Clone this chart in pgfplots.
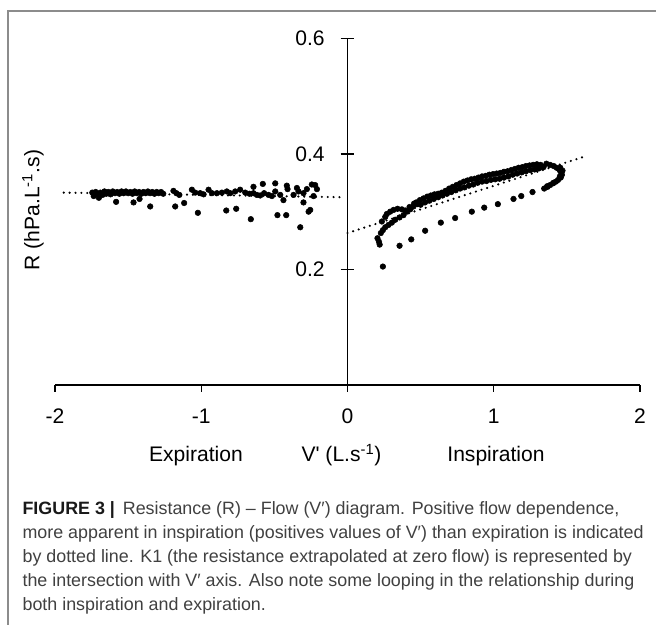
\documentclass[border=0pt]{standalone}
\usepackage{fontspec}
\setmainfont{Liberation Sans}
\usepackage{pgfplots}
\pgfplotsset{compat=1.18}

\pgfplotstableread{
x y
-1.745 0.333
-1.735 0.327
-1.722 0.334
-1.710 0.330
-1.700 0.324
-1.690 0.333
-1.675 0.329
-1.662 0.335
-1.650 0.331
-1.635 0.334
-1.620 0.330
-1.605 0.335
-1.590 0.332
-1.582 0.317
-1.575 0.334
-1.560 0.331
-1.545 0.335
-1.530 0.332
-1.515 0.335
-1.500 0.332
-1.485 0.334
-1.470 0.331
-1.463 0.316
-1.455 0.335
-1.440 0.332
-1.422 0.322
-1.425 0.334
-1.410 0.331
-1.395 0.334
-1.380 0.332
-1.365 0.335
-1.349 0.309
-1.350 0.332
-1.335 0.334
-1.320 0.331
-1.305 0.334
-1.290 0.332
-1.275 0.334
-1.260 0.331
-1.190 0.336
-1.178 0.309
-1.170 0.332
-1.150 0.329
-1.117 0.315
-1.064 0.338
-1.041 0.333
-1.023 0.298
-1.007 0.332
-0.984 0.330
-0.950 0.338
-0.927 0.332
-0.893 0.332
-0.859 0.333
-0.829 0.302
-0.825 0.335
-0.802 0.332
-0.768 0.335
-0.761 0.305
-0.734 0.338
-0.699 0.333
-0.670 0.331
-0.661 0.287
-0.643 0.343
-0.643 0.332
-0.620 0.329
-0.597 0.328
-0.579 0.348
-0.570 0.332
-0.540 0.329
-0.517 0.327
-0.494 0.349
-0.494 0.335
-0.479 0.294
-0.460 0.329
-0.438 0.320
-0.419 0.294
-0.415 0.345
-0.410 0.339
-0.369 0.329
-0.346 0.341
-0.335 0.335
-0.323 0.273
-0.301 0.332
-0.301 0.316
-0.278 0.339
-0.266 0.300
-0.255 0.303
-0.244 0.347
-0.232 0.327
-0.221 0.346
-0.209 0.339
}\expir

\pgfplotstableread{
x y
0.205 0.254
0.215 0.248
0.220 0.243
0.228 0.263
0.235 0.283
0.242 0.268
0.258 0.273
0.258 0.291
0.269 0.296
0.280 0.277
0.292 0.300
0.303 0.281
0.315 0.303
0.326 0.286
0.342 0.305
0.356 0.290
0.372 0.304
0.383 0.294
0.395 0.302
0.406 0.300
0.424 0.308
0.429 0.304
0.451 0.309
0.455 0.314
0.478 0.313
0.470 0.316
0.495 0.320
0.520 0.323
0.545 0.326
0.570 0.328
0.595 0.330
0.620 0.331
0.645 0.333
0.670 0.336
0.695 0.340
0.720 0.343
0.745 0.346
0.770 0.349
0.795 0.352
0.820 0.354
0.845 0.356
0.870 0.357
0.895 0.359
0.920 0.361
0.945 0.362
0.970 0.364
0.995 0.365
1.020 0.366
1.045 0.367
1.070 0.369
1.095 0.370
1.120 0.372
1.145 0.374
1.170 0.376
1.195 0.377
1.220 0.379
1.245 0.380
1.270 0.381
1.295 0.382
1.320 0.381
0.500 0.312
0.530 0.316
0.560 0.319
0.590 0.322
0.620 0.325
0.650 0.328
0.680 0.331
0.710 0.334
0.740 0.337
0.770 0.340
0.800 0.342
0.830 0.345
0.860 0.347
0.890 0.350
0.920 0.352
0.950 0.353
0.980 0.355
1.010 0.356
1.040 0.357
1.070 0.359
1.100 0.361
1.130 0.364
1.160 0.366
1.190 0.368
1.220 0.370
1.250 0.372
1.280 0.373
1.310 0.375
1.340 0.377
1.360 0.383
1.385 0.381
1.410 0.379
1.430 0.376
1.450 0.372
1.460 0.368
1.466 0.364
1.458 0.359
1.440 0.355
1.425 0.352
1.405 0.349
1.385 0.346
1.365 0.344
1.470 0.371
1.455 0.376
1.452 0.361
1.409 0.350
1.368 0.343
1.345 0.340
1.265 0.334
1.188 0.327
1.135 0.322
1.028 0.313
0.935 0.307
0.850 0.300
0.736 0.289
0.638 0.281
0.531 0.267
0.436 0.252
0.356 0.241
0.242 0.205
}\inspir

\begin{document}
\begin{tikzpicture}
% page = 656 x 624 px, 1 px = 0.75pt
\useasboundingbox (0,0) rectangle (492pt,468pt);
\draw[black!45, line width=0.8pt] (6pt,-5pt) -- (6pt,459.75pt) -- (500pt,459.75pt);

\begin{axis}[
    scale only axis,
    width=438.75pt,
    height=260pt,
    at={(41.25pt,179.25pt)},
    anchor=south west,
    xmin=-2, xmax=2,
    ymin=0, ymax=0.6,
    axis lines=middle,
    axis line style={-, line width=1.1pt},
    tick style={black, line width=1.1pt},
    ytick style={draw=none},
    tick align=outside,
    major tick length=5.1pt,
    xtick={-2,-1,0,1,2},
    xticklabels={-2,-1,0,1,2},
    ytick={0.2,0.4,0.6},
    yticklabels={0.2,0.4,0.6},
    hide obscured x ticks=false,
    hide obscured y ticks=false,
    tick label style={font=\fontsize{15.8}{18}\selectfont},
    xticklabel style={yshift=-9pt},
    yticklabel style={xshift=-8.5pt},
    clip=false
]

% y ticks cross the axis
\draw[line width=1.1pt] (axis cs:0,0.2) ++(-5.1pt,0pt) -- ++(10.2pt,0pt);
\draw[line width=1.1pt] (axis cs:0,0.4) ++(-5.1pt,0pt) -- ++(10.2pt,0pt);
\draw[line width=1.1pt] (axis cs:0,0.6) ++(-5.1pt,0pt) -- ++(10.2pt,0pt);

% --- dotted trend lines ---
\addplot[black, line width=1.8pt, line cap=round, dash pattern=on 0pt off 4.4pt]
    coordinates {(-1.94,0.333) (-0.04,0.325)};
\addplot[black, line width=1.8pt, line cap=round, dash pattern=on 0pt off 4.4pt]
    coordinates {(0.0,0.263) (1.64,0.397)};

% --- measured points ---
\addplot[only marks, mark=*, mark size=2.1pt, black] table {\expir};
\addplot[only marks, mark=*, mark size=2.1pt, black] table {\inspir};

\end{axis}

% --- axis titles (positions in px) ---
\begin{scope}[x=0.75pt, y=0.75pt, font=\fontsize{15.8}{18}\selectfont]
\node[rotate=90] at (33,414) {R (hPa.L\textsuperscript{-1}.s)};
\node[anchor=base] at (196,162.3) {Expiration};
\node[anchor=base] at (341.5,162.3) {V\textquotesingle\ (L.s\textsuperscript{-1})};
\node[anchor=base] at (496,162.3) {Inspiration};
\end{scope}

% --- caption ---
\begin{scope}[x=0.75pt, y=0.75pt, every node/.style={anchor=base west, inner sep=0pt,
    text=black!75, font=\fontsize{13.4}{16}\selectfont}]
\node at (22.3,109) {{\bfseries\color{black!90}FIGURE 3 \textbar} \,Resistance (R) – Flow (V′) diagram. Positive flow dependence,};
\node at (22.3,85) {more apparent in inspiration (positives values of V′) than expiration is indicated};
\node at (22.3,61) {by dotted line. K1 (the resistance extrapolated at zero flow) is represented by};
\node at (22.3,37) {the intersection with V′ axis. Also note some looping in the relationship during};
\node at (22.3,13) {both inspiration and expiration.};
\end{scope}
\end{tikzpicture}
\end{document}
